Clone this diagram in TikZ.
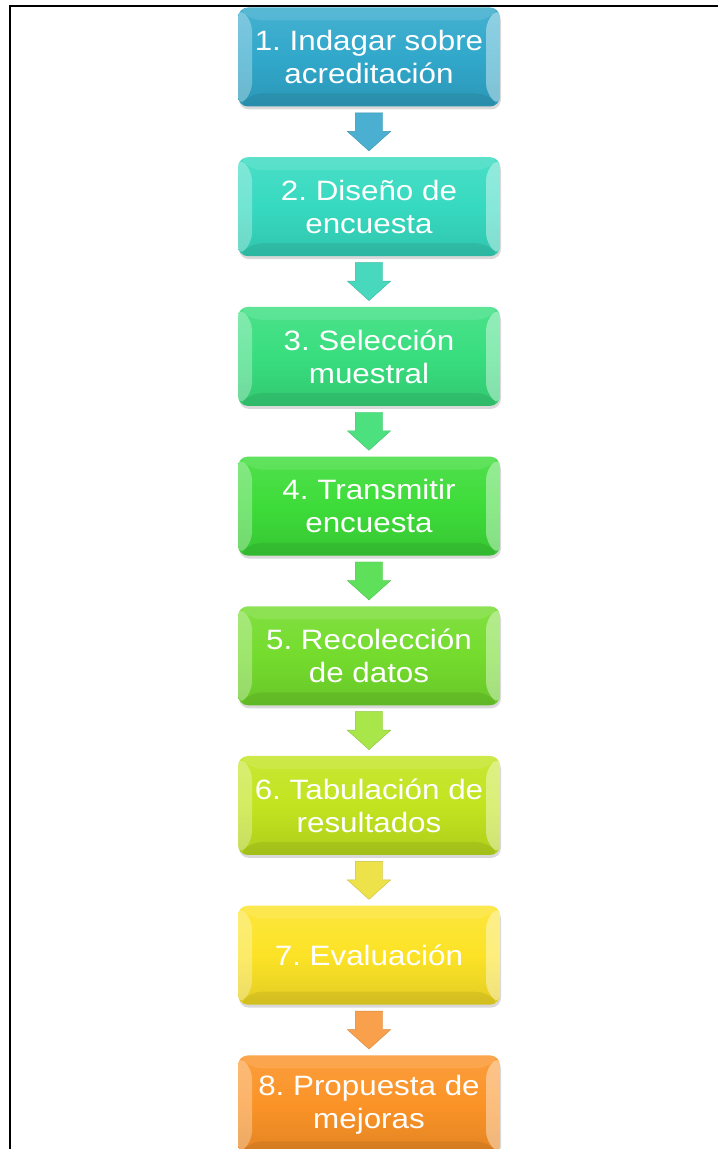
\documentclass[tikz,border=0pt]{standalone}
\usepackage{fontspec}
\setmainfont{Liberation Sans}[FakeStretch=1.12]
\frenchspacing
\usetikzlibrary{positioning}
\usetikzlibrary{shapes.arrows}
\usetikzlibrary{shadows}
\definecolor{paso1}{HTML}{31A8CB}
\definecolor{paso2}{HTML}{36DAC0}
\definecolor{paso3}{HTML}{38DE7E}
\definecolor{paso4}{HTML}{3DDC39}
\definecolor{paso5}{HTML}{74DC2D}
\definecolor{paso6}{HTML}{C2E41F}
\definecolor{paso7}{HTML}{FCE327}
\definecolor{paso8}{HTML}{FB9327}
\definecolor{flecha1}{HTML}{4AAFD0}
\definecolor{flecha2}{HTML}{48D8BE}
\definecolor{flecha3}{HTML}{4CE07E}
\definecolor{flecha4}{HTML}{5FE05A}
\definecolor{flecha5}{HTML}{A8E64A}
\definecolor{flecha6}{HTML}{EDE24A}
\definecolor{flecha7}{HTML}{F8A04C}

\tikzset{
	etapa/.style={rectangle,rounded corners=10pt,minimum width=262pt,minimum height=99pt,
		inner sep=0pt,align=center,text=white,font=\fontsize{28}{33}\selectfont,
		top color=#1!90!white,bottom color=#1!90!black,middle color=#1,
		drop shadow={shadow xshift=1pt,shadow yshift=-3pt,opacity=0.3},
		path picture={
			\coordinate (pa) at (path picture bounding box.north west);
			\coordinate (pb) at (path picture bounding box.south west);
			\coordinate (pc) at (path picture bounding box.south east);
			\coordinate (pd) at (path picture bounding box.north east);
			\fill[white,opacity=.3] (pa) -- ([shift={(14pt,-13pt)}]pa) -- ([shift={(14pt,13pt)}]pb) -- (pb) -- cycle;
			\fill[white,opacity=.4] (pd) -- ([shift={(-14pt,-13pt)}]pd) -- ([shift={(-14pt,13pt)}]pc) -- (pc) -- cycle;
			\fill[white,opacity=.1] (pa) -- ([shift={(14pt,-13pt)}]pa) -- ([shift={(-14pt,-13pt)}]pd) -- (pd) -- cycle;
			\fill[black,opacity=.07] (pb) -- ([shift={(14pt,13pt)}]pb) -- ([shift={(-14pt,13pt)}]pc) -- (pc) -- cycle;
		}},
	flecha/.style={single arrow,shape border rotate=270,fill=#1,draw=#1!85!black,line width=0.4pt,
		minimum height=38pt,inner xsep=13.5pt,inner ysep=0pt,
		single arrow head extend=8pt,single arrow tip angle=96,anchor=tail}
}

\begin{document}
\begin{tikzpicture}[x=1pt,y=1pt]
	
	\useasboundingbox (0,0) rectangle (718,1149);
	\clip (0,0) rectangle (718,1149);
	
	\draw [line width=2pt] (10,0) -- (10,1143) -- (718,1143);
	
	\node[etapa=paso1] (e1) at (369,1092) {1. Indagar sobre\\acreditación};
	\node[etapa=paso2,below=50.3pt of e1] (e2) {2. Diseño de\\encuesta};
	\node[etapa=paso3,below=50.3pt of e2] (e3) {3. Selección\\muestral};
	\node[etapa=paso4,below=50.3pt of e3] (e4) {4. Transmitir\\encuesta};
	\node[etapa=paso5,below=50.3pt of e4] (e5) {5. Recolección\\de datos};
	\node[etapa=paso6,below=50.3pt of e5] (e6) {6. Tabulación de\\resultados};
	\node[etapa=paso7,below=50.3pt of e6] (e7) {7. Evaluación};
	\node[etapa=paso8,below=50.3pt of e7] (e8) {8. Propuesta de\\mejoras};
	
	\node[flecha=flecha1] (f1) at ([yshift=-6pt]e1.south) {};
	\node[flecha=flecha2] (f2) at ([yshift=-6pt]e2.south) {};
	\node[flecha=flecha3] (f3) at ([yshift=-6pt]e3.south) {};
	\node[flecha=flecha4] (f4) at ([yshift=-6pt]e4.south) {};
	\node[flecha=flecha5] (f5) at ([yshift=-6pt]e5.south) {};
	\node[flecha=flecha6] (f6) at ([yshift=-6pt]e6.south) {};
	\node[flecha=flecha7] (f7) at ([yshift=-6pt]e7.south) {};
\end{tikzpicture}
\end{document}
